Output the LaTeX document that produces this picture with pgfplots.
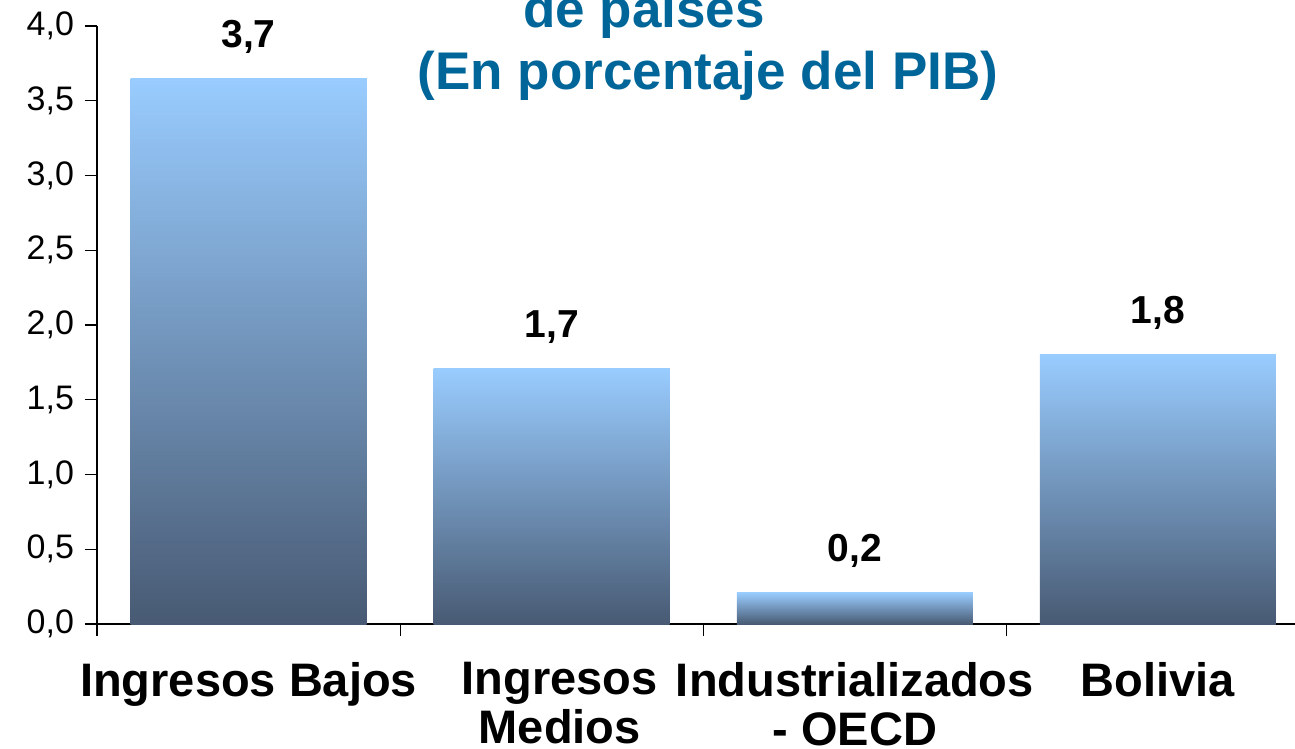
\documentclass[border=0pt]{standalone}
\usepackage{fontspec}
\setmainfont{Liberation Sans}
\usepackage{pgfplots}
\pgfplotsset{compat=1.18}
\definecolor{titleblue}{RGB}{0,102,153}
\definecolor{bartop}{RGB}{153,204,255}
\definecolor{barmid}{RGB}{124,162,206}
\definecolor{barbot}{RGB}{72,90,115}

\begin{document}
\begin{tikzpicture}
\begin{axis}[
  at={(48.5pt,62.5pt)}, anchor=south west,
  scale only axis, width=599pt, height=299pt,
  xmin=-0.5, xmax=3.452, ymin=0, ymax=4,
  axis lines*=left,
  axis line style={black, line width=0.6pt},
  tick style={black, line width=0.6pt},
  tick align=outside,
  major tick length=6pt,
  minor tick length=6pt,
  ytick={0,0.5,1,1.5,2,2.5,3,3.5,4},
  y tick label style={/pgf/number format/fixed, /pgf/number format/fixed zerofill, /pgf/number format/precision=1, /pgf/number format/use comma, /pgf/number format/assume math mode=true, font=\fontsize{17}{20}\selectfont, xshift=-2pt},
  xtick={0,1,2,3},
  xticklabels={Ingresos Bajos, {\hspace*{8pt}Ingresos\\\hspace*{8pt}Medios}, {Industrializados\\- OECD}, Bolivia},
  major x tick style={draw=none},
  minor xtick={-0.5,0.5,1.5,2.5},
  x tick label style={font=\bfseries\fontsize{23.5}{24.5}\selectfont, align=center, anchor=north, yshift=-9.5pt},
  ybar, bar width=118pt, bar shift=0pt,
  clip=false,
  every axis plot/.append style={ybar, bar shift=0pt, draw=none, top color=bartop, middle color=barmid, bottom color=barbot,
    nodes near coords, point meta=explicit symbolic,
    every node near coord/.append style={font=\bfseries\fontsize{19.5}{22}\selectfont, text=black, anchor=base, yshift=15.5pt}},
]
\addplot coordinates {(0,3.65) [3,7]};
\addplot coordinates {(1,1.71) [1,7]};
\addplot coordinates {(2,0.21) [0,2]};
\addplot coordinates {(3,1.80) [1,8]};
\end{axis}
\node[font=\bfseries\fontsize{26.5}{30}\selectfont, text=titleblue, anchor=base] at (322pt,360.5pt) {de países};
\node[font=\bfseries\fontsize{26.5}{30}\selectfont, text=titleblue, anchor=base] at (354pt,329.5pt) {(En porcentaje del PIB)};
\pgfresetboundingbox
\useasboundingbox (0,0) rectangle (647.5pt,374.5pt);
\end{tikzpicture}
\end{document}
